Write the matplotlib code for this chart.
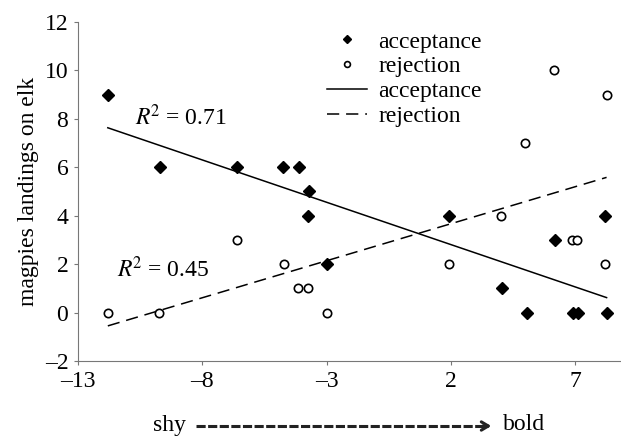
import numpy as np
import matplotlib
matplotlib.use("Agg")
import matplotlib.pyplot as plt
from matplotlib.lines import Line2D
from matplotlib.patches import FancyArrowPatch

plt.rcParams['font.family'] = ['Liberation Serif', 'DejaVu Serif']
plt.rcParams['mathtext.fontset'] = 'stix'

# data (boldness score, magpie landings)
acc_x = [-11.8, -9.7, -6.6, -4.75, -4.1, -3.72, -3.75, -3.0,
         1.94, 4.07, 5.05, 6.19, 6.93, 7.13, 8.2, 8.27]
acc_y = [9, 6, 6, 6, 6, 5, 4, 2, 4, 1, 0, 3, 0, 0, 4, 0]
rej_x = [-11.8, -9.73, -6.62, -4.71, -4.14, -3.76, -3.0,
         1.94, 4.04, 5.0, 6.16, 8.27, 6.86, 7.09, 8.2]
rej_y = [0, 0, 3, 2, 1, 1, 0, 2, 4, 7, 10, 9, 3, 3, 2]
r2_acc = 0.71
r2_rej = 0.45
xticks = [-13, -8, -3, 2, 7]
yticks = [-2, 0, 2, 4, 6, 8, 10, 12]

fig = plt.figure(figsize=(6.21, 4.38), dpi=100)
ax = fig.add_axes([0.1256, 0.1758, 0.8744, 0.774])

# linear fits over the range of each group
def fit_line(x, y):
    k, b = np.polyfit(x, y, 1)
    xs = np.array([min(x), max(x)])
    return xs, k * xs + b

ax.plot(acc_x, acc_y, 'D', color='black', ms=6.5, label='acceptance', zorder=3)
ax.plot(rej_x, rej_y, 'o', mfc='white', mec='black', mew=1.2, ms=6,
        label='rejection', zorder=3)
xa, ya = fit_line(acc_x, acc_y)
ax.plot(xa, ya, '-', color='black', lw=1.1, label='acceptance')
xr, yr = fit_line(rej_x, rej_y)
ax.plot(xr, yr, color='black', lw=1.1, dashes=(8, 4.5), label='rejection')

ax.text(-10.7, 8.05, r'$R^{\!2}$ = %.2f' % r2_acc, fontsize=17, va='center', ha='left')
ax.text(-11.45, 1.8, r'$R^{\!2}$ = %.2f' % r2_rej, fontsize=17, va='center', ha='left')

ax.set_xlim(-13, 8.85)
ax.set_ylim(-2, 12)
ax.set_xticks(xticks)
ax.set_xticklabels([str(t).replace('-', '\u2013') for t in xticks])
ax.set_yticks(yticks)
ax.set_yticklabels([str(t).replace('-', '\u2013') for t in yticks])
ax.tick_params(labelsize=17, length=3, color='#777777', pad=4)
for s in ['top', 'right']:
    ax.spines[s].set_visible(False)
for s in ['left', 'bottom']:
    ax.spines[s].set_color('#777777')
ax.set_ylabel('magpies landings on elk', fontsize=17, labelpad=4)

leg = ax.legend(loc='upper left', bbox_to_anchor=(0.436, 1.008), frameon=False,
                fontsize=17, handlelength=1.7, handletextpad=0.5,
                labelspacing=0.14, markerscale=0.7, borderpad=0)

# shy ---> bold
fig.text(153 / 621, 1 - 425 / 438, 'shy', fontsize=17, va='center', ha='left')
fig.text(503 / 621, 1 - 425 / 438, 'bold', fontsize=17, va='center', ha='left')
fig.add_artist(Line2D([196 / 621, 488 / 621], [1 - 426 / 438] * 2,
                      transform=fig.transFigure, color='#222222', lw=2.2,
                      dashes=(3, 0.8)))
fig.add_artist(FancyArrowPatch((480 / 621, 1 - 426 / 438), (494 / 621, 1 - 426 / 438),
                               transform=fig.transFigure, arrowstyle='->,head_length=5,head_width=3',
                               color='#222222', lw=2.2, mutation_scale=1))

fig.savefig('out.png', dpi=100)
